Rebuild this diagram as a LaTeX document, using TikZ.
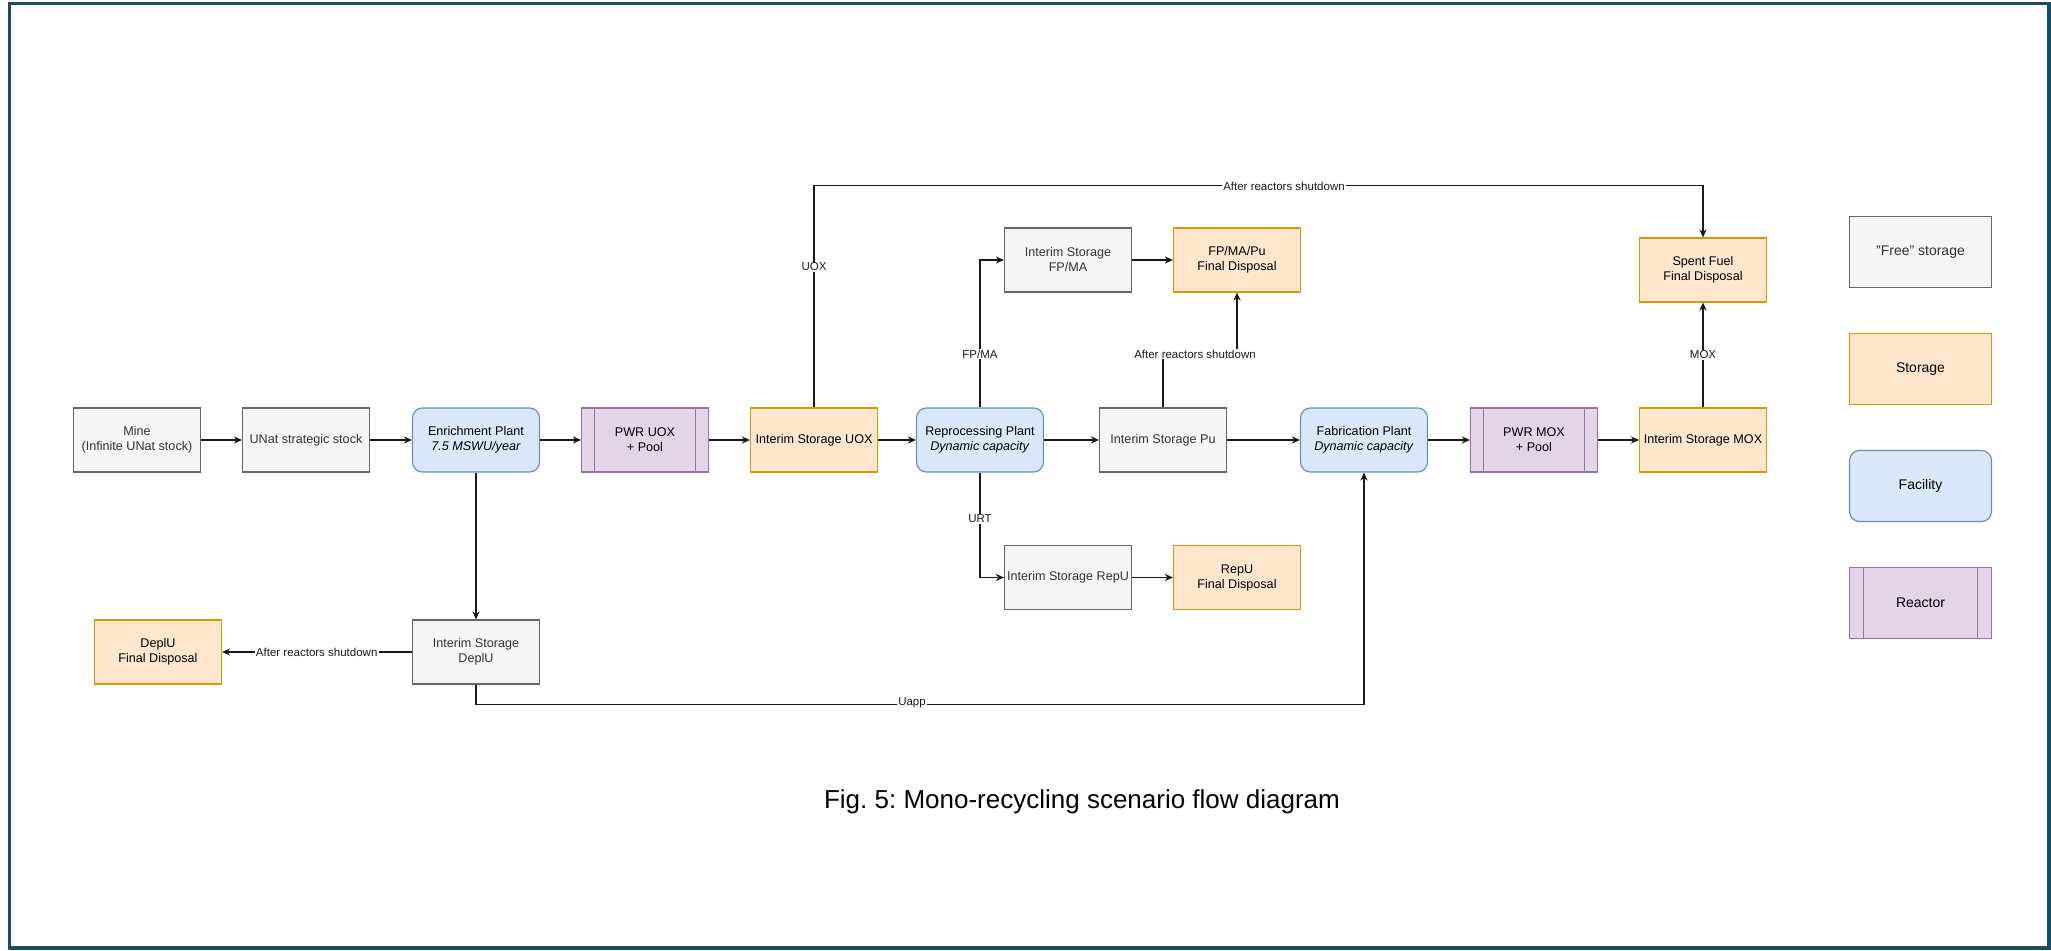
\documentclass[tikz,border=0pt]{standalone}
\usepackage{fontspec}
\setmainfont{Liberation Sans}
\usetikzlibrary{arrows.meta,calc}
\definecolor{freeFill}{HTML}{F5F5F5}
\definecolor{freeStroke}{HTML}{666666}
\definecolor{freeText}{HTML}{333333}
\definecolor{stoFill}{HTML}{FFE6CC}
\definecolor{stoStroke}{HTML}{D79B00}
\definecolor{facFill}{HTML}{DAE8FC}
\definecolor{facStroke}{HTML}{6C8EBF}
\definecolor{reaFill}{HTML}{E1D5E7}
\definecolor{reaStroke}{HTML}{9673A6}
\definecolor{frameCol}{HTML}{1B4D65}
\definecolor{edgeCol}{HTML}{1A1A1A}
\frenchspacing
\begin{document}
\begin{tikzpicture}[x=0.5pt,y=-0.5pt,
 box/.style={minimum width=63.5pt, minimum height=32pt, inner xsep=0.5pt, inner ysep=1pt, align=center,
   font=\fontsize{6.3pt}{7.5pt}\selectfont, line width=0.6pt},
 legendbox/.style={minimum width=71pt, minimum height=35.5pt, font=\fontsize{7pt}{8.4pt}\selectfont},
 free/.style={box, draw=freeStroke, fill=freeFill, text=freeText},
 sto/.style={box, draw=stoStroke, fill=stoFill, text=black},
 fac/.style={box, draw=facStroke, fill=facFill, rounded corners=5pt, text=black},
 rea/.style={box, draw=reaStroke, fill=reaFill, text=black,
   path picture={
     \draw[reaStroke, line width=0.6pt]
       ($(path picture bounding box.north west)!0.1!(path picture bounding box.north east)$) --
       ($(path picture bounding box.south west)!0.1!(path picture bounding box.south east)$)
       ($(path picture bounding box.north west)!0.9!(path picture bounding box.north east)$) --
       ($(path picture bounding box.south west)!0.9!(path picture bounding box.south east)$);
   }},
 flow/.style={draw=edgeCol, line width=0.6pt, -{Stealth[length=4pt, width=3.6pt, inset=1.3pt]}},
 lbl/.style={fill=white, inner sep=0.6pt, font=\fontsize{5.75pt}{6.9pt}\selectfont, text=edgeCol}
]
\useasboundingbox (0,0) rectangle (2051,951);
\fill[white] (0,0) rectangle (2051,951);
\draw[frameCol, line width=1.7pt] (9.5,3.5) rectangle (2049,948);

% main row
\node[free] (mine) at (137,440) {Mine\\(Infinite UNat stock)};
\node[free] (unat) at (306,440) {UNat strategic stock};
\node[fac] (enr) at (476,440) {Enrichment Plant\\\textit{7.5 MSWU/year}};
\node[rea] (pwru) at (645,440) {PWR UOX\\+ Pool};
\node[sto] (isuox) at (814,440) {Interim Storage UOX};
\node[fac] (repro) at (980,440) {Reprocessing Plant\\\textit{Dynamic capacity}};
\node[free] (ispu) at (1163,440) {Interim Storage Pu};
\node[fac] (fab) at (1364,440) {Fabrication Plant\\\textit{Dynamic capacity}};
\node[rea] (pwrm) at (1534,440) {PWR MOX\\+ Pool};
\node[sto] (ismox) at (1703,440) {Interim Storage MOX};

% upper / lower branches
\node[free] (isfpma) at (1068,260) {Interim Storage\\FP/MA};
\node[sto] (fpmapu) at (1237,260) {FP/MA/Pu\\Final Disposal};
\node[free] (isrepu) at (1068,577.5) {Interim Storage RepU};
\node[sto] (repufd) at (1237,577.5) {RepU\\Final Disposal};
\node[sto] (sf) at (1703,270) {Spent Fuel\\Final Disposal};
\node[free] (isdeplu) at (476,652) {Interim Storage\\DeplU};
\node[sto] (deplufd) at (158,652) {DeplU\\Final Disposal};

% legend
\node[free, legendbox] (lgfree) at (1920.5,252) {"Free" storage};
\node[sto, legendbox] (lgsto) at (1920.5,369) {Storage};
\node[fac, legendbox] (lgfac) at (1920.5,486) {Facility};
\node[rea, legendbox] (lgrea) at (1920.5,603) {Reactor};

% connectors
\draw[flow] (mine) -- (unat);
\draw[flow] (unat) -- (enr);
\draw[flow] (enr) -- (pwru);
\draw[flow] (pwru) -- (isuox);
\draw[flow] (isuox) -- (repro);
\draw[flow] (repro) -- (ispu);
\draw[flow] (ispu) -- (fab);
\draw[flow] (fab) -- (pwrm);
\draw[flow] (pwrm) -- (ismox);
\draw[flow] (isuox.north) -- ++(0,-222) -| (sf.north);
\draw[flow] (repro.north) |- (isfpma.west);
\draw[flow] (isfpma) -- (fpmapu);
\draw[flow] (ispu.north) -- ++(0,-54) -| (fpmapu.south);
\draw[flow] (repro.south) |- (isrepu.west);
\draw[flow] (isrepu) -- (repufd);
\draw[flow] (enr.south) -- (isdeplu.north);
\draw[flow] (isdeplu.west) -- (deplufd.east);
\draw[flow] (isdeplu.south) -- ++(0,20) -| (fab.south);
\draw[flow] (ismox.north) -- (sf.south);

% connector labels
\node[lbl] (l1) at (1284,186) {After reactors shutdown};
\node[lbl] (l2) at (814,267) {UOX};
\node[lbl] (l3) at (980,354) {FP/MA};
\node[lbl] (l4) at (1195,354) {After reactors shutdown};
\node[lbl] (l5) at (980,519) {URT};
\node[lbl] (l6) at (316.7,652) {After reactors shutdown};
\node[lbl] (l7) at (912,703) {Uapp};
\node[lbl] (l8) at (1703,355) {MOX};

% caption
\node[font=\fontsize{13pt}{15.6pt}\selectfont, inner sep=0pt] (title) at (1082,802) {Fig. 5: Mono-recycling scenario flow diagram};
\end{tikzpicture}
\end{document}
